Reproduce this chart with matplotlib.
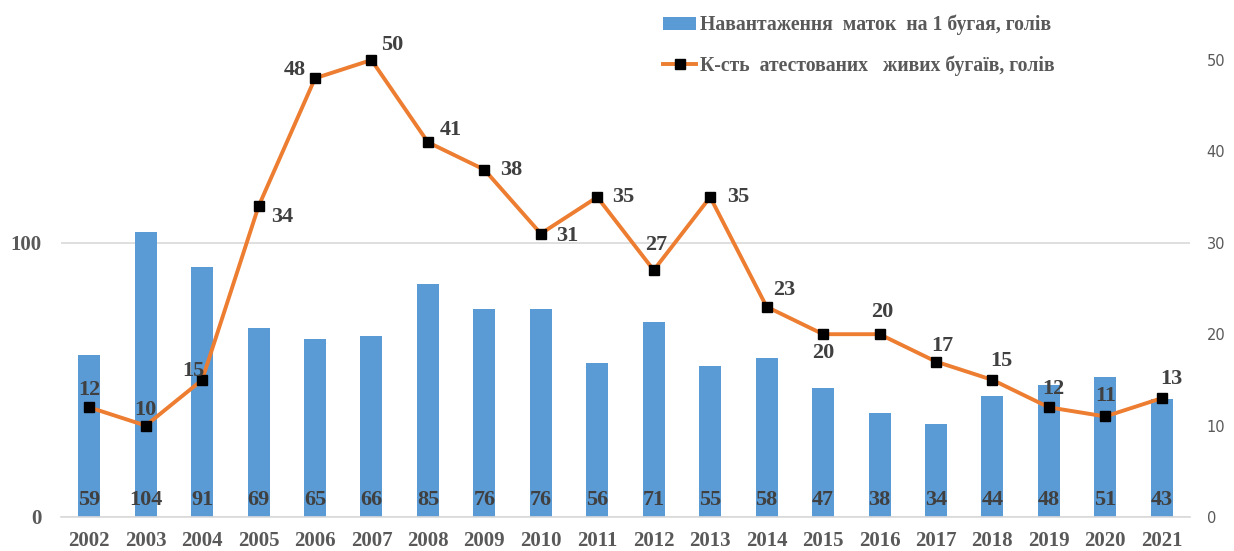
import matplotlib
matplotlib.use("Agg")
import matplotlib.pyplot as plt
import numpy as np

# data
years = ["2002", "2003", "2004", "2005", "2006", "2007", "2008", "2009", "2010", "2011",
         "2012", "2013", "2014", "2015", "2016", "2017", "2018", "2019", "2020", "2021"]
load_per_bull = [59, 104, 91, 69, 65, 66, 85, 76, 76, 56, 71, 55, 58, 47, 38, 34, 44, 48, 51, 43]
bulls_count = [12, 10, 15, 34, 48, 50, 41, 38, 31, 35, 27, 35, 23, 20, 20, 17, 15, 12, 11, 13]
bar_label = "Навантаження  маток  на 1 бугая, голів"
line_label = "К-сть  атестованих   живих бугаїв, голів"

# label offsets for the line values (pixels)
line_offsets = [(0, 17), (0, 16), (-9, 9), (24, -11), (-20, 8), (21, 15), (23, 12), (27, 0),
                (26, -2), (26, 0), (2, 25), (28, 0), (18, 17), (0, -19), (3, 22), (6, 16),
                (9, 19), (4, 18), (0, 20), (10, 19)]

SERIF = "Liberation Serif"
TXT = "#404040"
GRAY = "#595959"

fig = plt.figure(figsize=(12.34, 5.51), dpi=100)
ax = fig.add_axes([61 / 1234, 34 / 551, 1129 / 1234, 457 / 551])
ax2 = ax.twinx()

x = np.arange(len(years))
ax.bar(x, load_per_bull, width=0.39, color="#5B9BD5", label=bar_label, zorder=2)
ax.set_ylim(0, 500 / 3)
ax.set_xlim(-0.5, len(years) - 0.5)
ax.set_yticks([0, 100])
ax.yaxis.grid(True, color="#D9D9D9", linewidth=1.2, zorder=0)
ax.set_axisbelow(True)
ax.set_xticks(x)
ax.set_xticklabels(years)
for s in ["top", "left", "right"]:
    ax.spines[s].set_visible(False)
ax.spines["bottom"].set_color("#D9D9D9")
ax.spines["bottom"].set_linewidth(1.2)
ax.tick_params(axis="both", length=0)
ax.tick_params(axis="x", pad=10)
ax.tick_params(axis="y", pad=14)
for t in ax.get_xticklabels() + ax.get_yticklabels():
    t.set_fontfamily(SERIF)
    t.set_fontweight("bold")
    t.set_fontsize(15)
    t.set_color(GRAY)

for xi, v in zip(x, load_per_bull):
    ax.annotate(str(v), xy=(xi, 0), xytext=(0, 17), textcoords="offset pixels",
                ha="center", va="center", fontfamily=SERIF, fontweight="bold",
                fontsize=16, color=TXT)

ax2.plot(x, bulls_count, color="#ED7D31", linewidth=2.8, marker="s", markersize=7,
         markerfacecolor="black", markeredgecolor="black", label=line_label,
         zorder=3, clip_on=False)
ax2.set_ylim(0, 50)
ax2.set_yticks(range(0, 51, 10))
for s in ["top", "left", "right", "bottom"]:
    ax2.spines[s].set_visible(False)
ax2.tick_params(axis="y", length=0, pad=12, labelsize=10.5, labelcolor=GRAY)

for xi, v, (dx, dy) in zip(x, bulls_count, line_offsets):
    ax2.annotate(str(v), xy=(xi, v), xytext=(dx, dy), textcoords="offset pixels",
                 ha="center", va="center", fontfamily=SERIF, fontweight="bold",
                 fontsize=16, color=TXT)

h1, l1 = ax.get_legend_handles_labels()
h2, l2 = ax2.get_legend_handles_labels()
leg = fig.legend(h1 + h2, l1 + l2, loc="upper left", bbox_to_anchor=(645 / 1234, 1.005),
                 frameon=False, prop={"family": SERIF, "weight": "bold", "size": 14.2},
                 handlelength=1.7, handletextpad=0.2, labelspacing=1.0)
for t in leg.get_texts():
    t.set_color(GRAY)

fig.savefig("out.png", dpi=100)
